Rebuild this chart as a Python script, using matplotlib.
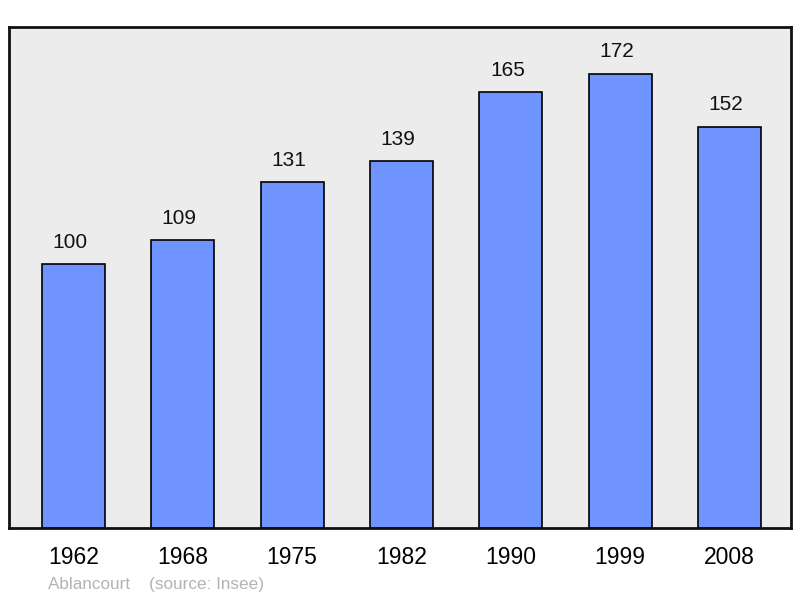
import matplotlib.pyplot as plt

plt.rcParams['font.family'] = ['Liberation Sans', 'DejaVu Sans']

years = ['1962', '1968', '1975', '1982', '1990', '1999', '2008']
values = [100, 109, 131, 139, 165, 172, 152]

fig = plt.figure(figsize=(8, 5.98), dpi=100)
ax = fig.add_axes([9/800, 70/598, 782/800, 501/598])
ax.set_facecolor('#ececec')

x = range(len(years))
ax.bar(x, values, width=0.576, color='#7094ff', edgecolor='black', linewidth=1.2, zorder=2)

# value labels sit a bit left of the bar centre in the original
for i, v in zip(x, values):
    ax.annotate(str(v), (i, v), xytext=(-2.5, 9), textcoords='offset points',
                ha='center', va='bottom', fontsize=15, color='#111111')

ax.set_xlim(-0.59, 6.563)
ax.set_ylim(0, 189.8)
ax.set_xticks(list(x))
ax.set_xticklabels(years, fontsize=16.5)
ax.tick_params(axis='x', length=0, pad=13)
ax.set_yticks([])
for s in ax.spines.values():
    s.set_linewidth(2)
    s.set_color('#111111')

fig.text(48/800, 1 - 584/598, 'Ablancourt    (source: Insee)', fontsize=12.3,
         color='#b3b3b3', va='center', ha='left')

fig.savefig('out.png', dpi=100)
